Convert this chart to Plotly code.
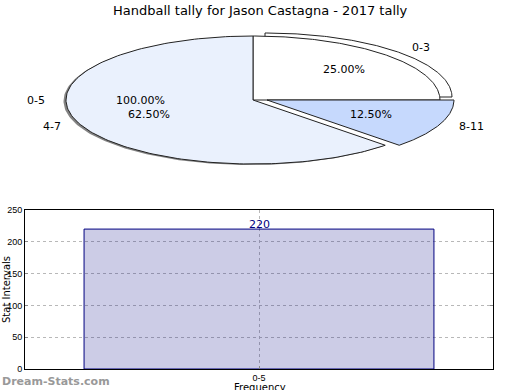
import math
import plotly.graph_objects as go

# ---------------- data ----------------
title_text = "Handball tally for Jason Castagna - 2017 tally"
pie_labels = ["0-3", "8-11", "4-7"]
pie_values = [2, 1, 5]
pie_colors = ["#ffffff", "#c6d9fd", "#eaf1fd"]

full_labels = ["0-5"]
full_values = [220]

bar_categories = ["0-5"]
bar_values = [220]
y_ticks = [0, 50, 100, 150, 200, 250]

# ---------------- geometry / style (pixel-like units of pie axis) ----------------
CX, CY, RX, RY = 253.0, 100.0, 187.0, 64.0
START = 90.0  # degrees, clockwise
explode_offsets = [(12.0, -3.0), (14.0, 0.0), (0.0, 0.0)]
shadow_on = [False, False, True]
SHADOW_DX, SHADOW_DY = -2.5, 1.0


def wedge(a0, a1, ox=0.0, oy=0.0, n=160):
    xs, ys = [CX + ox], [CY + oy]
    for i in range(n + 1):
        a = math.radians(a0 + (a1 - a0) * i / n)
        xs.append(CX + ox + RX * math.cos(a))
        ys.append(CY + oy - RY * math.sin(a))
    xs.append(CX + ox)
    ys.append(CY + oy)
    return xs, ys


fig = go.Figure()

total = sum(pie_values)
angles = []
a = START
for v in pie_values:
    span = 360.0 * v / total
    angles.append((a, a - span))
    a -= span

annotations = []
lab_font = dict(family="DejaVu Sans", size=11, color="#000000")

# full 0-5 pie (100%) underneath
ftot = sum(full_values)
fa = START
for lab, v in zip(full_labels, full_values):
    span = 360.0 * v / ftot
    a0, a1 = fa, fa - span
    xs, ys = wedge(a0, a1)
    fig.add_trace(go.Scatter(x=xs, y=ys, xaxis="x2", yaxis="y2", mode="lines",
                             fill="toself", fillcolor="#ffffff",
                             line=dict(width=0), hoverinfo="skip", showlegend=False))
    mid = math.radians(180.0) if span >= 360 else math.radians((a0 + a1) / 2)
    lx = CX + 1.1 * RX * math.cos(mid)
    ly = CY - 1.1 * RY * math.sin(mid)
    annotations.append(dict(x=lx, y=ly, xref="x2", yref="y2", text=lab, showarrow=False,
                            xanchor="left" if math.cos(mid) > 0 else "right", yanchor="middle", font=lab_font))
    px_ = CX + 0.6 * RX * math.cos(mid)
    py_ = CY - 0.6 * RY * math.sin(mid)
    annotations.append(dict(x=px_, y=py_, xref="x2", yref="y2", text="%.2f%%" % (100.0 * v / ftot),
                            showarrow=False, xanchor="center", yanchor="middle", font=lab_font))
    fa = a1

# shadows
for (a0, a1), (ox, oy), sh in zip(angles, explode_offsets, shadow_on):
    if not sh:
        continue
    xs, ys = wedge(a0, a1, ox + SHADOW_DX, oy + SHADOW_DY)
    fig.add_trace(go.Scatter(x=xs, y=ys, xaxis="x2", yaxis="y2", mode="lines",
                             fill="toself", fillcolor="rgba(50,50,50,0.6)",
                             line=dict(width=0), hoverinfo="skip", showlegend=False))

# slices
for i, ((a0, a1), (ox, oy), col, lab, v) in enumerate(zip(angles, explode_offsets, pie_colors, pie_labels, pie_values)):
    mid = math.radians((a0 + a1) / 2)
    if i == 0:
        xs, ys = wedge(a0, a1, ox, oy)
        fig.add_trace(go.Scatter(x=xs, y=ys, xaxis="x2", yaxis="y2", mode="lines",
                                 fill="toself", fillcolor=col,
                                 line=dict(color="#222222", width=1), hoverinfo="skip", showlegend=False))
        xs, ys = wedge(a0, a1)
    else:
        xs, ys = wedge(a0, a1, ox, oy)
    fig.add_trace(go.Scatter(x=xs, y=ys, xaxis="x2", yaxis="y2", mode="lines",
                             fill="toself", fillcolor=col,
                             line=dict(color="#222222", width=1), hoverinfo="skip", showlegend=False))
    lx = CX + ox + 1.1 * RX * math.cos(mid)
    ly = CY + oy - 1.1 * RY * math.sin(mid)
    annotations.append(dict(x=lx, y=ly, xref="x2", yref="y2", text=lab, showarrow=False,
                            xanchor="left" if math.cos(mid) > 0 else "right", yanchor="middle", font=lab_font))
    px_ = CX + ox + 0.6 * RX * math.cos(mid)
    py_ = CY + oy - 0.6 * RY * math.sin(mid)
    annotations.append(dict(x=px_, y=py_, xref="x2", yref="y2", text="%.2f%%" % (100.0 * v / total),
                            showarrow=False, xanchor="center", yanchor="middle", font=lab_font))

# ---------------- bar chart ----------------
fig.add_trace(go.Bar(x=bar_categories, y=bar_values, width=0.8,
                     marker=dict(color="rgba(0,0,128,0.2)", line=dict(color="#000080", width=1)),
                     hoverinfo="skip", showlegend=False))
for c, v in zip(bar_categories, bar_values):
    annotations.append(dict(x=c, y=v, xref="x", yref="y", text=str(v), showarrow=False,
                            xanchor="center", yanchor="middle", yshift=5,
                            font=dict(family="DejaVu Sans", size=11, color="#000080")))

W, H = 520, 390
tick_font = dict(family="Liberation Sans", size=9, color="#000000")
fig.update_layout(
    template="none",
    width=W, height=H,
    margin=dict(l=0, r=0, t=0, b=0, pad=0),
    paper_bgcolor="white", plot_bgcolor="white",
    xaxis=dict(domain=[25 / W, 493 / W], anchor="y", type="category", range=[-0.535, 0.535],
               automargin=False,
               showgrid=True, gridcolor="#b8b8b8", griddash="dot", gridwidth=1,
               showline=True, linecolor="black", linewidth=1, mirror=True,
               ticks="inside", ticklen=3, tickcolor="#888888", tickfont=tick_font, zeroline=False),
    yaxis=dict(domain=[(H - 369) / H, (H - 210) / H], anchor="x", range=[0, 250], tickvals=y_ticks,
               automargin=False,
               showgrid=True, gridcolor="#b8b8b8", griddash="dot", gridwidth=1,
               showline=True, linecolor="black", linewidth=1, mirror="allticks",
               ticks="inside", ticklen=3, tickcolor="#888888", tickfont=tick_font, zeroline=False),
    xaxis2=dict(domain=[0, 1], anchor="y2", range=[0, W], visible=False, fixedrange=True, automargin=False),
    yaxis2=dict(domain=[(H - 180) / H, 1], anchor="x2", range=[180, 0], visible=False, fixedrange=True,
                automargin=False),
    showlegend=False,
)

annotations += [
    dict(x=260 / W, y=1 - 10 / H, xref="paper", yref="paper", text=title_text, showarrow=False,
         xanchor="center", yanchor="middle", font=dict(family="DejaVu Sans", size=13, color="#000000")),
    dict(x=6 / W, y=1 - 290 / H, xref="paper", yref="paper", text="Stat Intervals", showarrow=False,
         textangle=-90, xanchor="center", yanchor="middle", font=dict(family="DejaVu Sans", size=10, color="#000000")),
    dict(x=260 / W, y=1 - 387 / H, xref="paper", yref="paper", text="Frequency", showarrow=False,
         xanchor="center", yanchor="middle", font=dict(family="DejaVu Sans", size=10, color="#000000")),
    dict(x=0, y=1 - 381 / H, xref="paper", yref="paper", text="<b>Dream-Stats.com</b>", showarrow=False,
         xanchor="left", yanchor="middle", font=dict(family="DejaVu Sans", size=11, color="#999999")),
]
fig.update_layout(annotations=annotations)

fig.write_html("out.html", config={"displayModeBar": False},
               post_script="document.body.style.margin='0';document.body.style.padding='0';")
